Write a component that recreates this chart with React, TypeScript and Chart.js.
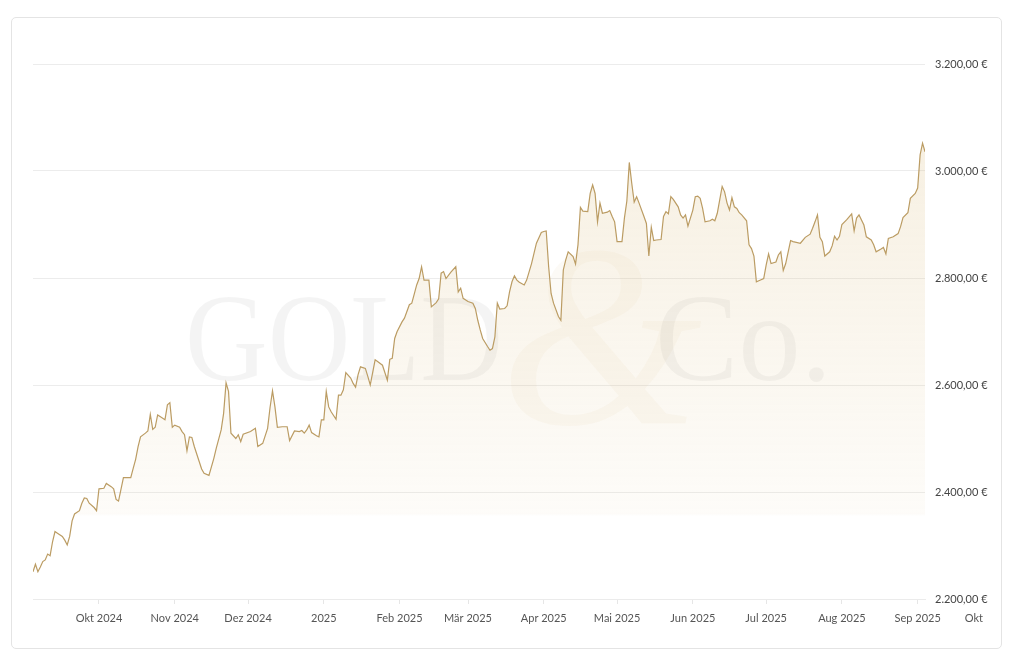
import React, { useEffect, useRef } from 'react';
import { Chart, registerables } from 'chart.js';

Chart.register(...registerables);

// Day offsets counted from 2024-09-04 (first data point)
const dayOffsets = [
  0, 1, 2, 3, 4, 5, 6, 7, 8, 9, 10, 12, 13, 14, 15, 16, 17, 19, 20, 21, 22, 23, 25, 26, 27, 29, 30, 32, 33, 34, 35, 37, 40, 41, 42, 43, 44, 46, 47, 48, 49, 50, 51, 52, 54, 55, 56, 57, 58, 60, 61, 62, 63, 64, 65, 66, 68, 69, 70, 72, 74, 75, 77, 78, 79, 80, 81, 83, 84, 85, 86, 89, 91, 92, 94, 96, 97, 98, 99, 100, 102, 104, 105, 107, 109, 110, 111, 112, 113, 114, 116, 117, 118, 119, 120, 121, 122, 124, 125, 126, 127, 128, 130, 131, 132, 133, 134, 136, 137, 138, 140, 141, 143, 145, 146, 147, 148, 149, 151, 152, 154, 155, 156, 157, 158, 159, 160, 162, 163, 165, 166, 167, 168, 169, 171, 173, 174, 175, 176, 178, 180, 181, 182, 183, 184, 186, 187, 188, 189, 190, 191, 193, 194, 195, 196, 197, 198, 199, 201, 202, 204, 205, 206, 208, 209, 210, 211, 212, 213, 215, 216, 217, 218, 219, 221, 222, 223, 224, 225, 227, 228, 229, 230, 231, 232, 233, 235, 236, 237, 238, 239, 241, 242, 243, 244, 245, 246, 247, 248, 250, 251, 252, 253, 254, 255, 257, 258, 259, 260, 261, 262, 264, 265, 266, 267, 268, 270, 271, 272, 273, 274, 275, 277, 278, 279, 280, 281, 282, 283, 284, 285, 286, 287, 288, 289, 290, 292, 293, 294, 295, 296, 297, 299, 300, 301, 302, 304, 305, 306, 307, 308, 310, 311, 314, 316, 318, 319, 320, 321, 322, 323, 324, 326, 327, 328, 329, 330, 331, 333, 335, 336, 337, 338, 340, 341, 343, 344, 345, 347, 348, 349, 350, 352, 354, 355, 356, 358, 359, 361, 362, 363, 364, 365,
];

// Gold price in EUR per ounce
const prices = [
  2251, 2265, 2251, 2260, 2270, 2273, 2284, 2281, 2307, 2326, 2323, 2317, 2310, 2301, 2317, 2346, 2359, 2365, 2379, 2389, 2388, 2379, 2371, 2365, 2406, 2407, 2416, 2410, 2406, 2386, 2383, 2427, 2427, 2444, 2461, 2485, 2503, 2510, 2514, 2545, 2517, 2521, 2544, 2541, 2535, 2563, 2567, 2521, 2525, 2521, 2513, 2507, 2477, 2503, 2502, 2485, 2457, 2443, 2435, 2431, 2463, 2482, 2516, 2547, 2604, 2588, 2510, 2500, 2507, 2494, 2508, 2513, 2519, 2485, 2491, 2519, 2558, 2589, 2559, 2521, 2522, 2522, 2496, 2514, 2513, 2515, 2510, 2516, 2525, 2511, 2505, 2503, 2535, 2535, 2588, 2559, 2550, 2536, 2581, 2581, 2591, 2623, 2613, 2603, 2596, 2619, 2634, 2631, 2616, 2600, 2647, 2644, 2637, 2609, 2648, 2650, 2687, 2700, 2718, 2725, 2750, 2753, 2770, 2787, 2799, 2821, 2796, 2796, 2746, 2754, 2761, 2809, 2812, 2799, 2811, 2821, 2774, 2781, 2762, 2756, 2753, 2743, 2721, 2703, 2687, 2672, 2665, 2668, 2690, 2753, 2742, 2743, 2748, 2774, 2793, 2804, 2796, 2792, 2787, 2796, 2827, 2846, 2865, 2885, 2887, 2888, 2821, 2771, 2753, 2728, 2721, 2815, 2834, 2849, 2840, 2826, 2862, 2932, 2925, 2924, 2958, 2974, 2958, 2905, 2940, 2921, 2923, 2926, 2915, 2905, 2868, 2868, 2912, 2944, 3016, 2977, 2942, 2952, 2940, 2915, 2902, 2841, 2895, 2870, 2871, 2872, 2915, 2924, 2920, 2952, 2947, 2933, 2918, 2912, 2918, 2897, 2927, 2952, 2953, 2949, 2930, 2905, 2907, 2910, 2907, 2921, 2946, 2971, 2961, 2940, 2927, 2950, 2933, 2930, 2922, 2918, 2907, 2862, 2855, 2841, 2793, 2795, 2799, 2824, 2845, 2827, 2830, 2843, 2849, 2814, 2827, 2870, 2868, 2865, 2876, 2882, 2893, 2905, 2918, 2876, 2868, 2841, 2849, 2860, 2878, 2871, 2878, 2900, 2909, 2920, 2888, 2912, 2918, 2899, 2877, 2871, 2862, 2849, 2854, 2857, 2845, 2874, 2877, 2883, 2896, 2913, 2922, 2949, 2958, 2968, 3030, 3052, 3036,
];

// Month boundaries (day offsets) and their labels
const monthTickDays = [27, 58, 88, 119, 150, 178, 209, 239, 270, 300, 331, 362];
const monthTickLabels = ['Okt 2024', 'Nov 2024', 'Dez 2024', '2025', 'Feb 2025', 'Mär 2025', 'Apr 2025', 'Mai 2025', 'Jun 2025', 'Jul 2025', 'Aug 2025', 'Sep 2025'];
const trailingTickDay = 392;
const trailingTickLabel = 'Okt';

const yTicks = [2200, 2400, 2600, 2800, 3000, 3200];

const watermarkLeft = 'GOLD';
const watermarkAmp = '&';
const watermarkRight = 'Co.';

function formatEuro(v: number): string {
  const fixed = Math.abs(v).toFixed(2);
  const [intPart, dec] = fixed.split('.');
  const withDots = intPart.replace(/\B(?=(\d{3})+(?!\d))/g, '.');
  return (v < 0 ? '-' : '') + withDots + ',' + dec + ' €';
}

const LINE_COLOR = '#bb9c63';
const FONT = 'Lato, "Open Sans", sans-serif';

const watermarkPlugin = {
  id: 'watermark',
  beforeDatasetsDraw(chart: any) {
    const { ctx, chartArea } = chart;
    const cx = (chartArea.left + chartArea.right) / 2;
    const cy = (chartArea.top + chartArea.bottom) / 2;
    ctx.save();
    // big ampersand
    ctx.font = 'italic 260px "Liberation Serif", serif';
    ctx.fillStyle = 'rgba(215, 188, 135, 0.075)';
    ctx.textAlign = 'center';
    ctx.textBaseline = 'alphabetic';
    ctx.fillText(watermarkAmp, cx + 122, cy + 92);
    // GOLD
    ctx.font = '125px "Liberation Serif", serif';
    ctx.fillStyle = 'rgba(0, 0, 0, 0.045)';
    ctx.textAlign = 'left';
    const w = ctx.measureText(watermarkLeft).width;
    const targetW = 318;
    ctx.save();
    ctx.translate(cx - 294, cy + 48);
    ctx.scale(targetW / w, 1);
    ctx.fillText(watermarkLeft, 0, 0);
    ctx.restore();
    // Co.
    ctx.fillText(watermarkRight, cx + 176, cy + 48);
    ctx.restore();
  },
  afterDraw(chart: any) {
    const { ctx } = chart;
    const xs = chart.scales.x;
    ctx.save();
    ctx.font = `11px ${FONT}`;
    ctx.fillStyle = '#555';
    ctx.textBaseline = 'middle';
    ctx.textAlign = 'center';
    const w = ctx.measureText(trailingTickLabel).width;
    const px = xs.getPixelForValue(trailingTickDay);
    const x = Math.min(px, chart.width - 18 - w / 2);
    const firstLabel = xs._labelItems && xs._labelItems[0];
    const y = firstLabel ? firstLabel.options.translation[1] + 6.5 : xs.top + 19;
    ctx.fillText(trailingTickLabel, x, y);
    ctx.restore();
  },
};

export default function App() {
  const canvasRef = useRef<HTMLCanvasElement | null>(null);

  useEffect(() => {
    if (!canvasRef.current) return;
    const points = dayOffsets.map((d, i) => ({ x: d, y: prices[i] }));
    const chart = new Chart(canvasRef.current, {
      type: 'line',
      data: {
        datasets: [
          {
            data: points,
            borderColor: LINE_COLOR,
            borderWidth: 1.2,
            pointRadius: 0,
            tension: 0,
            fill: 'start',
            backgroundColor: (c: any) => {
              const { chart: ch } = c;
              const area = ch.chartArea;
              if (!area) return 'rgba(220,190,130,0.15)';
              const g = ch.ctx.createLinearGradient(0, area.top, 0, area.bottom);
              g.addColorStop(0, 'rgba(220,190,130,0.27)');
              g.addColorStop(0.84, 'rgba(220,190,130,0.05)');
              g.addColorStop(0.845, 'rgba(220,190,130,0)');
              g.addColorStop(1, 'rgba(220,190,130,0)');
              return g;
            },
          },
        ],
      },
      options: {
        animation: false,
        responsive: true,
        maintainAspectRatio: false,
        layout: { padding: { left: 21, top: 46, right: 0, bottom: 0 } },
        plugins: {
          legend: { display: false },
          tooltip: { enabled: false },
        },
        scales: {
          x: {
            type: 'linear',
            min: 0,
            max: dayOffsets[dayOffsets.length - 1],
            afterBuildTicks: (s: any) => {
              s.ticks = monthTickDays.map((v) => ({ value: v }));
            },
            afterFit: (s: any) => {
              s.height = 49;
            },
            ticks: {
              autoSkip: false,
              maxRotation: 0,
              minRotation: 0,
              padding: 8,
              color: '#555',
              font: { family: FONT, size: 11 },
              callback: (v: any) => {
                const i = monthTickDays.indexOf(Number(v));
                return i >= 0 ? monthTickLabels[i] : '';
              },
            },
            grid: {
              drawOnChartArea: false,
              drawTicks: true,
              tickLength: 5,
              color: '#e6e6e6',
            },
            border: { display: true, color: '#ebebeb' },
          },
          y: {
            position: 'right',
            min: 2200,
            max: 3200,
            afterBuildTicks: (s: any) => {
              s.ticks = yTicks.map((v) => ({ value: v }));
            },
            afterFit: (s: any) => {
              s.width = 76;
            },
            ticks: {
              padding: 10,
              color: '#444',
              font: { family: FONT, size: 11 },
              callback: (v: any) => formatEuro(Number(v)),
            },
            grid: { color: '#ececec', drawTicks: false },
            border: { display: false },
          },
        },
      },
      plugins: [watermarkPlugin],
    } as any);
    return () => chart.destroy();
  }, []);

  return (
    <div
      style={{
        position: 'absolute',
        left: 11,
        top: 17,
        width: 991,
        height: 632,
        border: '1px solid #e4e4e4',
        borderRadius: 5,
        boxSizing: 'border-box',
        background: '#fff',
      }}
    >
      <div style={{ position: 'relative', width: 989, height: 630 }}>
        <canvas ref={canvasRef} />
      </div>
    </div>
  );
}
